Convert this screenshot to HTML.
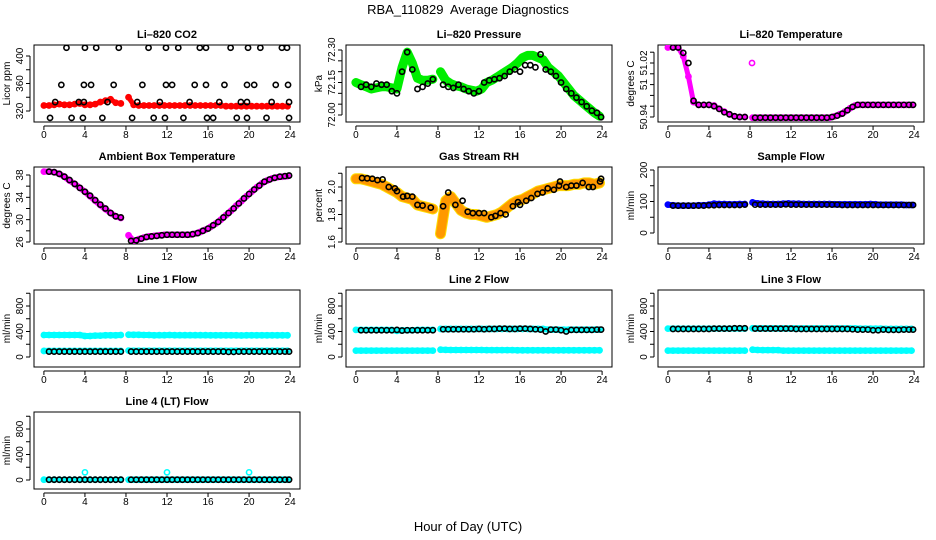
<!DOCTYPE html>
<html><head><meta charset="utf-8">
<style>
html,body{margin:0;padding:0;background:#fff;}
svg{display:block;font-family:"Liberation Sans",Arial,sans-serif;}
</style></head>
<body>
<svg id="chart" width="936" height="540" viewBox="0 0 936 540">
<text x="468" y="14" text-anchor="middle" font-size="13" style="white-space:pre">RBA_110829&#160; Average Diagnostics</text>
<text x="468" y="531" text-anchor="middle" font-size="13">Hour of Day (UTC)</text>
</svg>
<script>
// ---- data ----
const xTicks = [0,4,8,12,16,20,24];
const hc = [0,0.5,1,1.5,2,2.5,3,3.5,4,4.5,5,5.5,6,6.5,7,7.5,8.25,8.75,9.25,9.75,10.25,10.75,11.25,11.75,12.25,12.75,13.25,13.75,14.25,14.75,15.25,15.75,16.25,16.75,17.25,17.75,18.25,18.75,19.25,19.75,20.25,20.75,21.25,21.75,22.25,22.75,23.25,23.75];
const hb = [0.5,1,1.5,2,2.5,3,3.5,4,4.5,5,5.5,6,6.5,7,7.5,8.5,9,9.5,10,10.5,11,11.5,12,12.5,13,13.5,14,14.5,15,15.5,16,16.5,17,17.5,18,18.5,19,19.5,20,20.5,21,21.5,22,22.5,23,23.5,23.9];

const co2Red = [328,328,329,330,329,329,330,331,329,329,330,333,335,337,332,331,340,329,328,328,328,328,328,328,328,328,328,328,328,328,328,328,328,328,328,327,327,327,327,327,327,327,327,327,327,327,327,327];
const co2BlackH = [2.2,4.0,5.1,7.3,10.2,11.9,13.1,15.2,15.8,18.2,19.9,21.1,23.2,23.7,1.7,3.9,4.6,6.8,9.6,11.9,12.5,14.7,15.8,17.6,19.8,20.5,22.6,23.8,1.1,3.4,3.9,6.2,9.1,11.3,14.2,17.1,19.2,19.8,22.2,23.9,0.6,2.7,3.8,5.7,8.6,10.7,11.8,13.6,15.9,16.5,18.8,19.8,21.7,23.9];
const co2BlackV = [412,412,412,412,412,412,412,412,412,412,412,412,412,412,358,358,358,358,358,358,358,358,358,358,358,358,358,358,333,333,333,333,333,333,333,333,333,333,333,333,310,310,310,310,310,310,310,310,310,310,310,310,310,310];

const presGreen = [72.15,72.14,72.13,72.12,72.125,72.13,72.13,72.125,72.12,72.22,72.29,72.24,72.17,72.16,72.16,72.165,72.20,72.16,72.145,72.135,72.13,72.12,72.115,72.11,72.12,72.15,72.16,72.175,72.19,72.205,72.22,72.24,72.265,72.275,72.275,72.265,72.255,72.22,72.20,72.18,72.15,72.12,72.09,72.07,72.05,72.03,72.01,71.995];
const presBlack = [72.13,72.14,72.13,72.145,72.14,72.14,72.11,72.10,72.20,72.29,72.21,72.12,72.13,72.145,72.165,72.14,72.13,72.125,72.14,72.12,72.11,72.10,72.11,72.15,72.16,72.165,72.17,72.18,72.20,72.21,72.20,72.23,72.23,72.22,72.28,72.21,72.20,72.18,72.15,72.12,72.10,72.08,72.06,72.04,72.02,72.01,71.99];

const tempMag = [51.043,51.043,51.043,51.03,51.0,50.962,50.958,50.958,50.958,50.957,50.952,50.948,50.944,50.941,50.94,50.94,50.939,50.939,50.939,50.939,50.939,50.939,50.939,50.939,50.939,50.939,50.939,50.939,50.939,50.939,50.939,50.939,50.941,50.944,50.948,50.953,50.957,50.958,50.958,50.958,50.958,50.958,50.958,50.958,50.958,50.958,50.958,50.958];
const tempBlack = [51.043,51.043,51.035,51.02,50.964,50.958,50.958,50.958,50.956,50.952,50.947,50.944,50.941,50.94,50.94,50.939,50.939,50.939,50.939,50.939,50.939,50.939,50.939,50.939,50.939,50.939,50.939,50.939,50.939,50.939,50.94,50.942,50.945,50.95,50.955,50.958,50.958,50.958,50.958,50.958,50.958,50.958,50.958,50.958,50.958,50.958,50.958];
const tempOutH = [8.2];
const tempOutV = [51.02];

const ambMag = [38.6,38.6,38.5,38.2,37.7,37.0,36.4,35.7,35.0,34.2,33.4,32.6,31.9,31.2,30.6,30.3,27.2,26.1,26.5,26.8,27.0,27.1,27.2,27.3,27.3,27.3,27.3,27.3,27.3,27.5,27.8,28.2,28.7,29.3,30.0,30.8,31.6,32.5,33.3,34.2,35.0,35.8,36.5,37.0,37.4,37.6,37.7,37.8];
const ambBlack = [38.6,38.5,38.2,37.7,37.1,36.4,35.7,35.0,34.3,33.5,32.7,32.0,31.2,30.6,30.4,26.2,26.3,26.6,26.9,27.0,27.1,27.2,27.3,27.3,27.3,27.3,27.3,27.4,27.6,28.0,28.4,29.0,29.6,30.4,31.2,32.0,32.9,33.8,34.6,35.4,36.1,36.8,37.2,37.5,37.7,37.8,37.9];

const rhBand = [2.06,2.06,2.05,2.04,2.03,2.02,2.0,1.98,1.96,1.93,1.92,1.91,1.87,1.86,1.85,1.84,1.66,1.90,1.93,1.88,1.83,1.81,1.80,1.80,1.79,1.78,1.79,1.80,1.82,1.85,1.88,1.90,1.91,1.93,1.95,1.97,1.98,1.99,2.0,2.01,2.01,2.01,2.02,2.02,2.03,2.03,2.02,2.03];
const rhBlackH = [0.6,1.1,1.6,2.1,2.6,3.2,3.8,4.0,4.6,5.0,5.5,6.0,6.5,7.3,8.5,9.0,9.7,10.4,10.9,11.4,12.0,12.5,13.2,13.6,14.1,14.6,15.3,15.8,16.0,16.6,17.1,17.7,18.2,18.7,19.3,19.8,19.9,20.5,21.0,21.5,22.1,22.7,23.1,23.8,23.9];
const rhBlackV = [2.065,2.063,2.06,2.05,2.055,2.0,1.99,1.97,1.93,1.935,1.93,1.87,1.865,1.85,1.86,1.96,1.87,1.90,1.82,1.81,1.81,1.81,1.78,1.79,1.81,1.80,1.86,1.89,1.87,1.90,1.92,1.95,1.96,1.99,1.98,2.01,2.04,2.0,2.01,2.01,2.03,2.0,2.0,2.04,2.06];

const sampleBlue = [90,88,87,87,87,87,88,88,90,93,92,92,91,91,92,92,97,94,93,92,92,92,93,94,93,93,92,92,92,92,92,92,91,91,91,91,91,91,91,92,91,90,90,90,90,90,89,89];
const sampleBlack = [87,87,87,87,87,87,87,88,88,89,89,89,89,89,90,90,90,90,90,90,90,91,90,90,90,90,90,90,90,90,90,90,89,89,89,89,89,89,89,89,89,89,89,89,89,89,89];

const l1High = [345,345,345,345,345,345,345,345,330,330,335,335,340,340,340,345,350,348,348,345,345,340,342,342,345,342,342,342,342,342,342,342,340,340,340,340,340,340,338,340,340,340,340,340,340,340,340,340];
const l1Low = [95,95,95,95,95,95,95,95,95,95,95,95,95,95,95,95,100,98,98,98,98,98,98,98,98,98,98,98,98,98,98,98,98,98,98,98,98,98,98,98,98,98,98,98,98,98,98,98];
const l1Black = [85,85,85,85,85,85,85,85,85,85,85,85,85,85,85,85,85,85,85,85,85,85,85,85,85,85,85,85,85,85,85,85,85,85,80,80,85,85,85,85,85,85,85,85,85,85,85];

const l2High = [425,425,425,425,425,425,425,425,410,420,420,420,425,425,425,425,440,440,440,440,440,440,440,440,440,440,440,440,440,440,440,440,440,440,440,440,440,430,430,430,430,430,430,430,430,430,430,430];
const l2Low = [100,100,100,100,100,100,100,100,100,100,100,100,100,100,100,100,115,112,110,110,110,110,110,110,110,108,108,108,108,108,108,105,105,105,105,105,105,105,105,105,105,105,105,105,105,105,105,105];
const l2Black = [420,420,420,420,420,420,420,425,415,420,420,420,420,420,420,435,435,435,435,435,435,435,440,435,440,440,445,445,440,440,445,445,440,435,430,400,430,430,420,400,425,425,425,425,425,430,430];

const l3High = [445,445,445,445,445,445,445,445,445,445,445,445,445,445,445,445,450,448,448,448,448,448,448,448,448,448,448,448,448,448,448,448,448,448,448,448,448,445,445,445,445,445,440,440,440,440,440,440];
const l3Low = [100,100,100,100,100,100,100,100,100,100,100,100,100,100,100,100,115,110,108,108,108,108,100,100,100,100,100,100,100,100,100,100,100,100,100,100,100,100,100,100,100,100,100,100,100,100,100,100];
const l3Black = [440,440,440,440,440,440,440,440,445,445,445,445,450,450,450,445,445,445,445,445,445,445,445,440,440,440,440,440,440,440,440,440,440,440,435,430,430,430,420,420,430,425,425,425,430,430,430];

const l4Cyan = [5,5,5,5,5,5,5,5,5,5,5,5,5,5,5,5,5,5,5,5,5,5,5,5,5,5,5,5,5,5,5,5,5,5,5,5,5,5,5,5,5,5,5,5,5,5,5,5];
const l4Black = [5,5,5,5,5,5,5,5,5,5,5,5,5,5,5,5,5,5,5,5,5,5,5,5,5,5,5,5,5,5,5,5,5,5,5,5,5,5,5,5,5,5,5,5,5,5,5];
const l4OutH = [4,12,20];
const l4OutV = [120,120,120];

const ticksCO2 = [320,340,360,380,400];
const labCO2 = ["320","","360","","400"];
const ticksPres = [72.00,72.05,72.10,72.15,72.20,72.25,72.30];
const labPres = ["72.00","","","72.15","","","72.30"];
const ticksTemp = [50.94,50.956,50.972,50.988,51.004,51.02,51.036];
const labTemp = ["50.94","","","51","","51.02",""];
const ticksAmb = [26,28,30,32,34,36,38];
const labAmb = ["26","","30","","34","","38"];
const ticksRH = [1.6,1.7,1.8,1.9,2.0,2.1];
const labRH = ["1.6","","1.8","","2.0",""];
const ticksSample = [0,50,100,150,200];
const labSample = ["0","","100","","200"];
const ticksFlow = [0,200,400,600,800,1000];
const labFlow = ["0","","400","","800",""];

// ---- drawing ----
const NS = "http://www.w3.org/2000/svg";
const svg = document.getElementById("chart");
const colL = [34,346,658], rowT = [45,167,290,412], PW = 266, PH = 77;

function mk(tag, attrs, parent){
  const e = document.createElementNS(NS, tag);
  for (const k in attrs) e.setAttribute(k, attrs[k]);
  (parent||svg).appendChild(e);
  return e;
}

function panel(col,row,title,ytitle,v0,p0,v1,p1,ticks,labs,slug){
  const L = colL[col], T = rowT[row], B = T+PH;
  const g = mk("g",{});
  
  
  const xs = h => L + 9.9 + h*(PW-19.8)/24;
  const ys = v => p0 + (v - v0)*(p1-p0)/(v1-v0);
  const box = mk("rect",{x:L,y:T,width:PW,height:PH,fill:"none",stroke:"#000","stroke-width":1},g);
  
  
  const t = mk("text",{x:L+PW/2,y:T-7,"text-anchor":"middle","font-size":11,"font-weight":"bold"},g);
  t.textContent = title;
  
  
  const yt = mk("text",{x:0,y:0,"text-anchor":"middle","font-size":10,transform:`translate(${L-24},${T+PH/2}) rotate(-90)`},g);
  yt.textContent = ytitle;
  
  
  const xa = mk("g",{},g);
  
  
  mk("line",{x1:xs(0),x2:xs(24),y1:B+4,y2:B+4,stroke:"#000"},xa);
  xTicks.forEach(h=>{
    mk("line",{x1:xs(h),x2:xs(h),y1:B+4,y2:B+8,stroke:"#000"},xa);
    const tl = mk("text",{x:xs(h),y:B+16,"text-anchor":"middle","font-size":10},xa);
    tl.textContent = String(h);
    
    
  });
  const ya = mk("g",{},g);
  
  
  mk("line",{x1:L-4,x2:L-4,y1:ys(ticks[0]),y2:ys(ticks[ticks.length-1]),stroke:"#000"},ya);
  ticks.forEach((v,i)=>{
    const y = ys(v);
    mk("line",{x1:L-8,x2:L-4,y1:y,y2:y,stroke:"#000"},ya);
    if (labs[i]) {
      const tl = mk("text",{x:0,y:0,"text-anchor":"middle","font-size":10,transform:`translate(${L-11},${y}) rotate(-90)`},ya);
      tl.textContent = labs[i];
      
      
    }
  });
  const clip = "clip-"+slug;
  const cp = mk("clipPath",{id:clip},g);
  mk("rect",{x:L,y:T,width:PW,height:PH},cp);
  const plot = mk("g",{"clip-path":`url(#${clip})`},g);
  return {xs,ys,plot,slug};
}

function band(P,hours,vals,color,width,name,edge){
  const grp = mk("g",{},P.plot);
  
  
  let seg = [];
  const flush = ()=>{
    if (!seg.length) return;
    const pts = seg.map(i=>P.xs(hours[i]).toFixed(1)+","+P.ys(vals[i]).toFixed(1)).join(" ");
    if (edge) mk("polyline",{points:pts,fill:"none",stroke:edge,"stroke-width":width+2,"stroke-linecap":"round","stroke-linejoin":"round"},grp);
    mk("polyline",{points:pts,fill:"none",stroke:color,"stroke-width":width,"stroke-linecap":"round","stroke-linejoin":"round"},grp);
    seg = [];
  };
  for (let i=0;i<hours.length;i++){
    if (i>0 && hours[i]-hours[i-1] > 0.6) flush();
    seg.push(i);
  }
  flush();
  for (let i=0;i<hours.length;i++){
    const c = mk("circle",{cx:P.xs(hours[i]),cy:P.ys(vals[i]),r:2.6,fill:"none",stroke:color,"stroke-width":1.6},grp);
    
    
  }
}

function pts(P,hours,vals,color,name){
  const grp = mk("g",{},P.plot);
  
  
  for (let i=0;i<hours.length;i++){
    const c = mk("circle",{cx:P.xs(hours[i]),cy:P.ys(vals[i]),r:2.6,fill:"none",stroke:color,"stroke-width":1.6},grp);
    
    
  }
}

let P;
P = panel(0,0,"Li\u2013820 CO2","Licor ppm",320,111,400,56,ticksCO2,labCO2,"co2");
band(P,hc,co2Red,"#ff0000",5,"red-series");
pts(P,co2BlackH,co2BlackV,"#000","black-series");

P = panel(1,0,"Li\u2013820 Pressure","kPa",72.0,115,72.3,50,ticksPres,labPres,"pressure");
band(P,hc,presGreen,"#00ee00",9,"green-series");
pts(P,hb,presBlack,"#000","black-series");

P = panel(2,0,"Li\u2013820 Temperature","degrees C",50.94,117,51.02,63,ticksTemp,labTemp,"li820-temperature");
band(P,hc,tempMag,"#ff00ff",5,"magenta-series");
pts(P,tempOutH,tempOutV,"#ff00ff","magenta-outlier");
pts(P,hb,tempBlack,"#000","black-series");

P = panel(0,1,"Ambient Box Temperature","degrees C",26,242,38,175,ticksAmb,labAmb,"ambient");
band(P,hc,ambMag,"#ff00ff",6,"magenta-series");
pts(P,hb,ambBlack,"#000","black-series");

P = panel(1,1,"Gas Stream RH","percent",1.6,242,2.0,187,ticksRH,labRH,"rh");
band(P,hc,rhBand,"#ff9900",9,"orange-series","#ffdd00");
pts(P,rhBlackH,rhBlackV,"#000","black-series");

P = panel(2,1,"Sample Flow","ml/min",0,233,200,170,ticksSample,labSample,"sample-flow");
band(P,hc,sampleBlue,"#0000ff",6,"blue-series");
pts(P,hb,sampleBlack,"#000","black-series");

P = panel(0,2,"Line 1 Flow","ml/min",0,357,800,306,ticksFlow,labFlow,"line1-flow");
band(P,hc,l1High,"#00ffff",6,"cyan-high-series");
band(P,hc,l1Low,"#00ffff",6,"cyan-low-series");
pts(P,hb,l1Black,"#000","black-series");

P = panel(1,2,"Line 2 Flow","ml/min",0,357,800,306,ticksFlow,labFlow,"line2-flow");
band(P,hc,l2High,"#00ffff",6,"cyan-high-series");
band(P,hc,l2Low,"#00ffff",6,"cyan-low-series");
pts(P,hb,l2Black,"#000","black-series");

P = panel(2,2,"Line 3 Flow","ml/min",0,357,800,306,ticksFlow,labFlow,"line3-flow");
band(P,hc,l3High,"#00ffff",6,"cyan-high-series");
band(P,hc,l3Low,"#00ffff",6,"cyan-low-series");
pts(P,hb,l3Black,"#000","black-series");

P = panel(0,3,"Line 4 (LT) Flow","ml/min",0,480,800,429,ticksFlow,labFlow,"line4-flow");
band(P,hc,l4Cyan,"#00ffff",5,"cyan-series");
pts(P,l4OutH,l4OutV,"#00ffff","cyan-outlier");
pts(P,hb,l4Black,"#000","black-series");
</script>
</body></html>
